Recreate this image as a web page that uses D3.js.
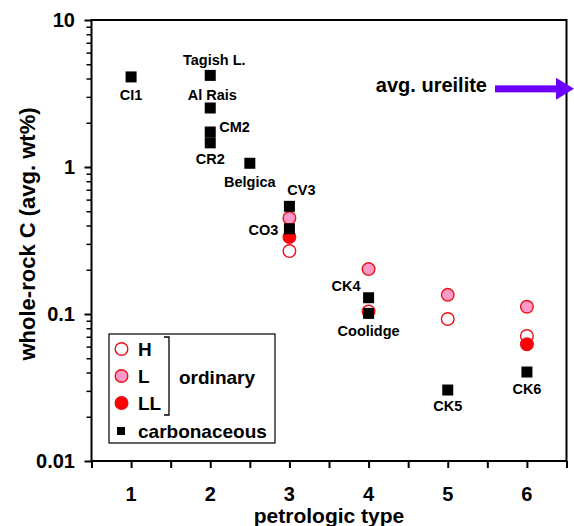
<!DOCTYPE html>
<html>
<head>
<meta charset="utf-8">
<script src="https://cdn.jsdelivr.net/npm/d3@7"></script>
<style>
  html, body { margin: 0; padding: 0; background: #fff; }
  svg { display: block; font-family: "Liberation Sans", Arial, sans-serif; font-weight: bold; }
</style>
</head>
<body>
<svg id="chart" width="574" height="526"></svg>
<script>
// Carbonaceous chondrites: petrologic type, group name, whole-rock carbon (wt%)
const carbTypes  = [1, 2, 2, 2, 2, 2.5, 3, 3, 4, 4, 5, 6];
const carbNames  = ["CI1", "Tagish L.", "Al Rais", "CM2", "CR2", "Belgica", "CV3", "CO3", "CK4", "Coolidge", "CK5", "CK6"];
const carbValues = [4.1, 4.2, 2.52, 1.73, 1.46, 1.06, 0.54, 0.38, 0.129, 0.101, 0.0304, 0.0403];

// Ordinary chondrites
const hTypes   = [3, 4, 5, 6];
const hValues  = [0.268, 0.104, 0.0925, 0.0708];
const lTypes   = [3, 4, 5, 6];
const lValues  = [0.45, 0.202, 0.135, 0.112];
const llTypes  = [3, 6];
const llValues = [0.334, 0.0622];

// Average ureilite carbon content (off the right edge)
const ureiliteValue = 3.4;

const xTickLabels = ["1", "2", "3", "4", "5", "6"];
const yTickLabels = ["0.01", "0.1", "1", "10"];

// Label placement for each carbonaceous point: [dx, dy, anchor]
const labelPlacement = [
  [0, 18, "middle"], [4, -16, "middle"], [2, -13, "middle"], [9, -5, "start"],
  [0, 16, "middle"], [0, 18, "middle"], [12, -17, "middle"], [-11, 1, "end"],
  [-8, -12, "end"], [0, 17, "middle"], [0, 16, "middle"], [0, 17, "middle"]
];

(function draw() {
  const svg = d3.select("#chart");
  const pl = 91.5, pr = 566.5, pt = 20, pb = 461;

  const x = d3.scaleLinear().domain([0.5, 6.5]).range([pl, pr]);
  const y = d3.scaleLog().domain([0.01, 10]).range([pb, pt]);

  // Bottom axis: ticks every half unit, labels at integers
  const xAxis = d3.axisBottom(x)
    .tickValues(d3.range(0.5, 6.51, 0.5))
    .tickSize(7)
    .tickFormat(() => "");
  const gx = svg.append("g").attr("transform", `translate(0,${pb})`).call(xAxis);
  gx.select(".domain").remove();
  gx.selectAll(".tick line").attr("stroke", "#000").attr("stroke-width", 2);

  svg.append("g").selectAll("text")
    .data(xTickLabels)
    .join("text")
    .attr("x", d => x(+d))
    .attr("y", 501)
    .attr("text-anchor", "middle")
    .attr("font-size", 20)
    .text(d => d);

  // Left axis: log ticks, decades labelled
  const minorVals = [];
  for (let e = -2; e < 1; e++) for (let m = 2; m <= 9; m++) minorVals.push(m * Math.pow(10, e));
  const majorVals = yTickLabels.map(Number);

  const gyMinor = svg.append("g").attr("transform", `translate(${pl},0)`)
    .call(d3.axisLeft(y).tickValues(minorVals).tickSize(5).tickFormat(() => ""));
  gyMinor.select(".domain").remove();
  gyMinor.selectAll(".tick line").attr("stroke", "#000").attr("stroke-width", 1.5);

  const gyMajor = svg.append("g").attr("transform", `translate(${pl},0)`)
    .call(d3.axisLeft(y).tickValues(majorVals).tickSize(7).tickFormat(() => ""));
  gyMajor.select(".domain").remove();
  gyMajor.selectAll(".tick line").attr("stroke", "#000").attr("stroke-width", 2);

  svg.append("g").selectAll("text")
    .data(yTickLabels)
    .join("text")
    .attr("x", 75)
    .attr("y", d => y(+d))
    .attr("dy", "0.36em")
    .attr("text-anchor", "end")
    .attr("font-size", 20)
    .text(d => d);

  // Plot frame
  svg.append("rect")
    .attr("x", pl).attr("y", pt)
    .attr("width", pr - pl).attr("height", pb - pt)
    .attr("fill", "none").attr("stroke", "#000").attr("stroke-width", 2);

  // Axis titles
  svg.append("text")
    .attr("x", (pl + pr) / 2).attr("y", 523)
    .attr("text-anchor", "middle").attr("font-size", 21)
    .text("petrologic type");

  svg.append("text")
    .attr("transform", "translate(35,234) rotate(-90)")
    .attr("text-anchor", "middle").attr("font-size", 22)
    .text("whole-rock C (avg. wt%)");

  // Ordinary chondrite circles
  const red = "#e8131b";
  function circles(types, values, fill) {
    svg.append("g").selectAll("circle")
      .data(types.map((t, i) => ({ t, v: values[i] })))
      .join("circle")
      .attr("cx", d => x(d.t))
      .attr("cy", d => y(d.v))
      .attr("r", 6.3)
      .attr("fill", fill)
      .attr("stroke", red)
      .attr("stroke-width", 1.4);
  }
  circles(hTypes, hValues, "#fff");
  circles(lTypes, lValues, "#fc99c9");
  circles(llTypes, llValues, "#ff0000");

  // Carbonaceous squares
  const sq = 11;
  svg.append("g").selectAll("rect")
    .data(carbTypes.map((t, i) => ({ t, v: carbValues[i] })))
    .join("rect")
    .attr("x", d => x(d.t) - sq / 2)
    .attr("y", d => y(d.v) - sq / 2)
    .attr("width", sq).attr("height", sq)
    .attr("fill", "#000");

  svg.append("g").selectAll("text")
    .data(carbNames.map((n, i) => ({ n, t: carbTypes[i], v: carbValues[i], p: labelPlacement[i] })))
    .join("text")
    .attr("x", d => x(d.t) + d.p[0])
    .attr("y", d => y(d.v) + d.p[1])
    .attr("dy", "0.36em")
    .attr("text-anchor", d => d.p[2])
    .attr("font-size", 14.5)
    .text(d => d.n);

  // Average ureilite arrow
  const ay = y(ureiliteValue);
  const violet = "#6a00ff";
  svg.append("rect")
    .attr("x", 495).attr("y", ay - 3.5)
    .attr("width", 62).attr("height", 7)
    .attr("fill", violet);
  svg.append("path")
    .attr("d", `M556,${ay - 11} L574,${ay} L556,${ay + 11} Z`)
    .attr("fill", violet);
  svg.append("text")
    .attr("x", 487).attr("y", ay - 4)
    .attr("dy", "0.36em")
    .attr("text-anchor", "end").attr("font-size", 20)
    .text("avg. ureilite");

  // Legend
  const lg = svg.append("g");
  lg.append("rect")
    .attr("x", 109).attr("y", 334).attr("width", 166).attr("height", 109)
    .attr("fill", "#fff").attr("stroke", "#000").attr("stroke-width", 1.2);

  const legendRows = [
    { label: "H", fill: "#fff", cy: 349 },
    { label: "L", fill: "#fc99c9", cy: 376 },
    { label: "LL", fill: "#ff0000", cy: 403 }
  ];
  legendRows.forEach(r => {
    lg.append("circle").attr("cx", 121.5).attr("cy", r.cy).attr("r", 6.3)
      .attr("fill", r.fill).attr("stroke", red).attr("stroke-width", 1.4);
    lg.append("text").attr("x", 138).attr("y", r.cy).attr("dy", "0.36em")
      .attr("font-size", 19).text(r.label);
  });
  lg.append("rect").attr("x", 117).attr("y", 427).attr("width", 8).attr("height", 8).attr("fill", "#000");
  lg.append("text").attr("x", 138).attr("y", 431).attr("dy", "0.36em")
    .attr("font-size", 19).text("carbonaceous");

  lg.append("path")
    .attr("d", "M164,337 H169 V415 H164")
    .attr("fill", "none").attr("stroke", "#000").attr("stroke-width", 1.3);
  lg.append("text").attr("x", 179).attr("y", 377).attr("dy", "0.36em")
    .attr("font-size", 19).text("ordinary");
})();
</script>
</body>
</html>
